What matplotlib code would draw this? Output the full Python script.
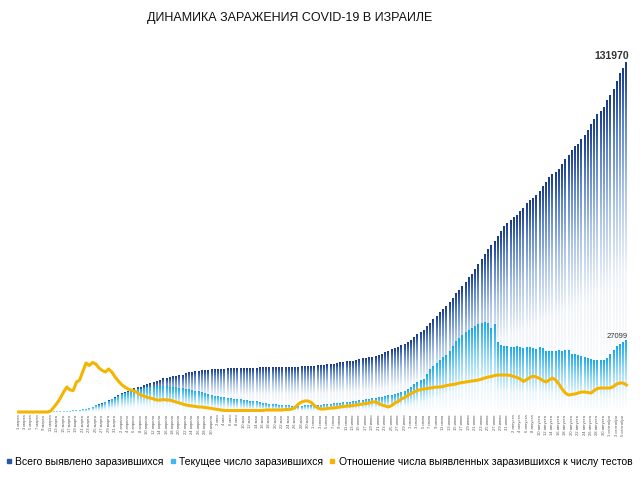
import numpy as np
import pandas as pd
import matplotlib
matplotlib.use('Agg')
import matplotlib.pyplot as plt
from matplotlib.colors import LinearSegmentedColormap
from matplotlib.lines import Line2D

plt.rcParams['font.family'] = ['Liberation Sans', 'DejaVu Sans']

# daily data 1 March - 6 September 2020
months = ['января', 'февраля', 'марта', 'апреля', 'мая', 'июня', 'июля', 'августа', 'сентября']
dates = pd.date_range('2020-03-01', '2020-09-06')
day_labels = [str(d.day) + ' ' + months[d.month - 1] for d in dates]

total = [10, 10, 12, 15, 17, 21, 25, 39, 50, 75, 97, 109, 143, 193, 250, 298, 337, 433, 677, 705,
         883, 1071, 1238, 1656, 2369, 2693, 3035, 3619, 4247, 4695, 5358,
         6092, 6857, 7428, 7851, 8430, 8904, 9248, 9404, 9968, 10408, 10743, 11145, 11586, 12046, 12501,
         12758, 12982, 13265, 13491, 13654, 13883, 14498, 14803, 15058, 15298, 15443, 15555, 15728, 15834, 15946,
         16101, 16185, 16208, 16246, 16310, 16381, 16436, 16458, 16477, 16506, 16529, 16548, 16579, 16607, 16643,
         16659, 16667, 16683, 16712, 16734, 16757, 16772, 16793, 16809, 16872, 16887, 16920, 17012, 17071, 17198, 17285,
         17377, 17495, 17562, 17752, 17863, 18032, 18109, 18268, 18569, 18795, 18972, 19055, 19237, 19495, 19783,
         20102, 20330, 20633, 20774, 21082, 21512, 21809, 22400, 22800, 23498, 24055, 24441, 24988, 25547, 26257,
         27047, 28055, 29170, 29958, 30749, 32222, 33557, 34825, 36180, 37464, 38670, 39966, 41235, 42848, 44714,
         46059, 47460, 48821, 50685, 52003, 54041, 55723, 57508, 59475, 61262, 62807, 64381, 66493, 68299, 69950, 71238,
         72218, 73530, 74430, 75932, 77098, 78628, 79959, 80838, 81868, 83443, 85300, 86900, 88600, 89800, 90700,
         91800, 93600, 95300, 97100, 98800, 100200, 101300, 102900, 104600, 106400, 108500, 110600, 112500, 113700, 115200, 117800,
         119700, 122000, 125000, 127900, 129800, 131970]

active = [8, 8, 10, 13, 15, 19, 23, 37, 48, 71, 93, 105, 139, 189, 246, 294, 326, 420, 660, 690,
          865, 1050, 1210, 1620, 2320, 2630, 2950, 3520, 4120, 4540, 5150,
          5850, 6550, 7080, 7420, 7900, 8250, 8450, 8500, 8900, 9200, 9300, 9400, 9500, 9550, 9600,
          9500, 9300, 9200, 9100, 8900, 8700, 8600, 8400, 8200, 7900, 7600, 7300, 7000, 6700, 6300,
          6000, 5800, 5600, 5400, 5200, 5000, 4850, 4700, 4550, 4400, 4250, 4100, 3950, 3800, 3600,
          3400, 3200, 3000, 2850, 2700, 2600, 2500, 2400, 2300, 2250, 2200, 2200, 2250, 2300, 2350, 2400,
          2450, 2550, 2600, 2750, 2850, 3000, 3050, 3150, 3400, 3550, 3700, 3750, 3850, 4050, 4250,
          4450, 4600, 4850, 4950, 5150, 5300, 5500, 5800, 6100, 6400, 6700, 7000, 7300, 7600, 8400,
          9400, 10300, 11000, 11800, 12400, 14200, 16000, 17100, 18300, 19600, 20500, 21500, 22700, 24800, 26600,
          27600, 29000, 29900, 30800, 31700, 32300, 32900, 33400, 34000, 33600, 31400, 32900, 26100, 25200, 24800, 24600,
          24500, 24200, 24600, 24300, 24100, 24400, 24200, 24000, 23800, 24300, 24000, 22800, 22700, 22700, 23000,
          23200, 22800, 23400, 23100, 21900, 21700, 21200, 21000, 20500, 20100, 19700, 19500, 19400, 19300, 19500, 20300,
          21600, 23400, 24600, 25700, 26200, 27099]

# share of positive tests, %
ratio = [0, 0, 0, 0, 0, 0, 0, 0, 0, 0,
         0.2, 1.0, 1.8, 2.8, 4.0, 5.0, 4.4, 4.3, 6.0, 6.4,
         8.2, 9.8, 9.3, 9.9, 9.6, 8.8, 8.3, 8.0, 8.6, 8.0,
         7.0, 6.2, 5.5, 5.0, 4.6, 4.4, 4.2, 3.8, 3.4, 3.2,
         2.9, 2.8, 2.6, 2.4, 2.4, 2.5, 2.4, 2.4, 2.2, 2.0,
         1.8, 1.6, 1.4, 1.3, 1.2, 1.1, 1.0, 1.0, 0.9, 0.8,
         0.7, 0.6, 0.5, 0.4, 0.3, 0.3, 0.3, 0.3, 0.3, 0.3,
         0.3, 0.3, 0.3, 0.3, 0.3, 0.3, 0.3, 0.4, 0.4, 0.4,
         0.4, 0.4, 0.4, 0.5, 0.5, 0.6, 0.9, 1.6, 2.0, 2.2,
         2.2, 1.9, 1.3, 0.8, 0.6, 0.6, 0.7, 0.8, 0.8, 0.9,
         1.0, 1.1, 1.2, 1.2, 1.3, 1.4, 1.5, 1.6, 1.7, 1.8,
         2.0, 2.0, 1.7, 1.4, 1.2, 1.0, 1.3, 1.8, 2.1, 2.6,
         2.9, 3.3, 3.7, 4.0, 4.3, 4.5, 4.6, 4.7, 4.8, 4.9,
         5.0, 5.0, 5.1, 5.3, 5.4, 5.5, 5.6, 5.8, 5.9, 6.0,
         6.1, 6.2, 6.3, 6.4, 6.6, 6.8, 7.0, 7.1, 7.3, 7.4,
         7.4, 7.4, 7.4, 7.3, 7.1, 6.9, 6.6, 6.1, 6.5, 6.9,
         7.2, 7.0, 6.7, 6.3, 6.0, 6.4, 6.8, 6.4, 5.6, 4.6,
         3.8, 3.4, 3.5, 3.6, 3.8, 4.0, 4.0, 3.9, 3.8, 4.3,
         4.7, 4.8, 4.8, 4.8, 4.8, 5.1, 5.6, 5.8, 5.8, 5.4]

dark_cmap = LinearSegmentedColormap.from_list('dark', [(0, '#ffffff'), (0.4, '#f0f5fb'), (0.65, '#a9c2e6'),
                                                       (0.85, '#5b82c6'), (0.95, '#2b4f9f'), (1, '#1a3a8a')])
light_cmap = LinearSegmentedColormap.from_list('light', [(0, '#ffffff'), (0.3, '#eaf7fd'), (0.65, '#8ad6f6'),
                                                         (1, '#17a8ec')])
yellow = '#f5b400'


def gradient_bars(ax, xs, hs, cmap, width, z):
    grad = np.linspace(0, 1, 256).reshape(-1, 1)
    for x, h in zip(xs, hs):
        ax.imshow(grad, extent=(x - width / 2, x + width / 2, 0, h), origin='lower',
                  cmap=cmap, aspect='auto', zorder=z, interpolation='bilinear')


fig = plt.figure(figsize=(6.4, 4.8), dpi=100)
ax = fig.add_axes([17 / 640, 68 / 480, 611 / 640, 372 / 480])
x = np.arange(len(total))

gradient_bars(ax, x, total, dark_cmap, 0.62, 1)
gradient_bars(ax, x, active, light_cmap, 0.62, 2)
ax.set_xlim(-0.5, len(total) - 0.5)
ax.set_ylim(0, 372 * 378)
ax.set_aspect('auto')

ax.set_xticks(x[::2])
ax.set_xticklabels(day_labels[::2], rotation=90, fontsize=3, color='#555555')
ax.tick_params(axis='x', length=0, pad=2)
ax.set_yticks([])
for s in ax.spines.values():
    s.set_visible(False)

ax.annotate(str(total[-1]), xy=(x[-1], total[-1]), xytext=(2, 1), textcoords='offset points',
            ha='right', va='bottom', fontsize=7.5, fontweight='bold', color='#333333')
ax.annotate(str(active[-1]), xy=(x[-1], active[-1]), xytext=(1, 0), textcoords='offset points',
            ha='right', va='bottom', fontsize=5.5, color='#333333')

ax2 = ax.twinx()
ax2.plot(x, ratio, color=yellow, lw=2.2, solid_joinstyle='round', clip_on=False)
ax2.set_ylim(0, 372 / 5)
ax2.set_xlim(-0.5, len(total) - 0.5)
ax2.set_yticks([])
for s in ax2.spines.values():
    s.set_visible(False)

fig.text(290 / 640, 1 - 18 / 480, 'ДИНАМИКА ЗАРАЖЕНИЯ COVID-19 В ИЗРАИЛЕ', ha='center', va='center',
         fontsize=9, color='#111111')

handles = [Line2D([], [], ls='', marker='s', markersize=2.5, color='#2a55a8'),
           Line2D([], [], ls='', marker='s', markersize=2.5, color='#40b8f0'),
           Line2D([], [], ls='', marker='s', markersize=3.5, color=yellow)]
labels = ['Всего выявлено заразившихся', 'Текущее число заразившихся',
          'Отношение числа выявленных заразившихся к числу тестов']
fig.legend(handles, labels, loc='center left', bbox_to_anchor=(0.004, 1 - 462 / 480), ncol=3,
           frameon=False, fontsize=7.5, handlelength=0.6, handletextpad=0.3, columnspacing=0.6,
           borderaxespad=0, borderpad=0.3)

fig.savefig('out.png', dpi=100)
